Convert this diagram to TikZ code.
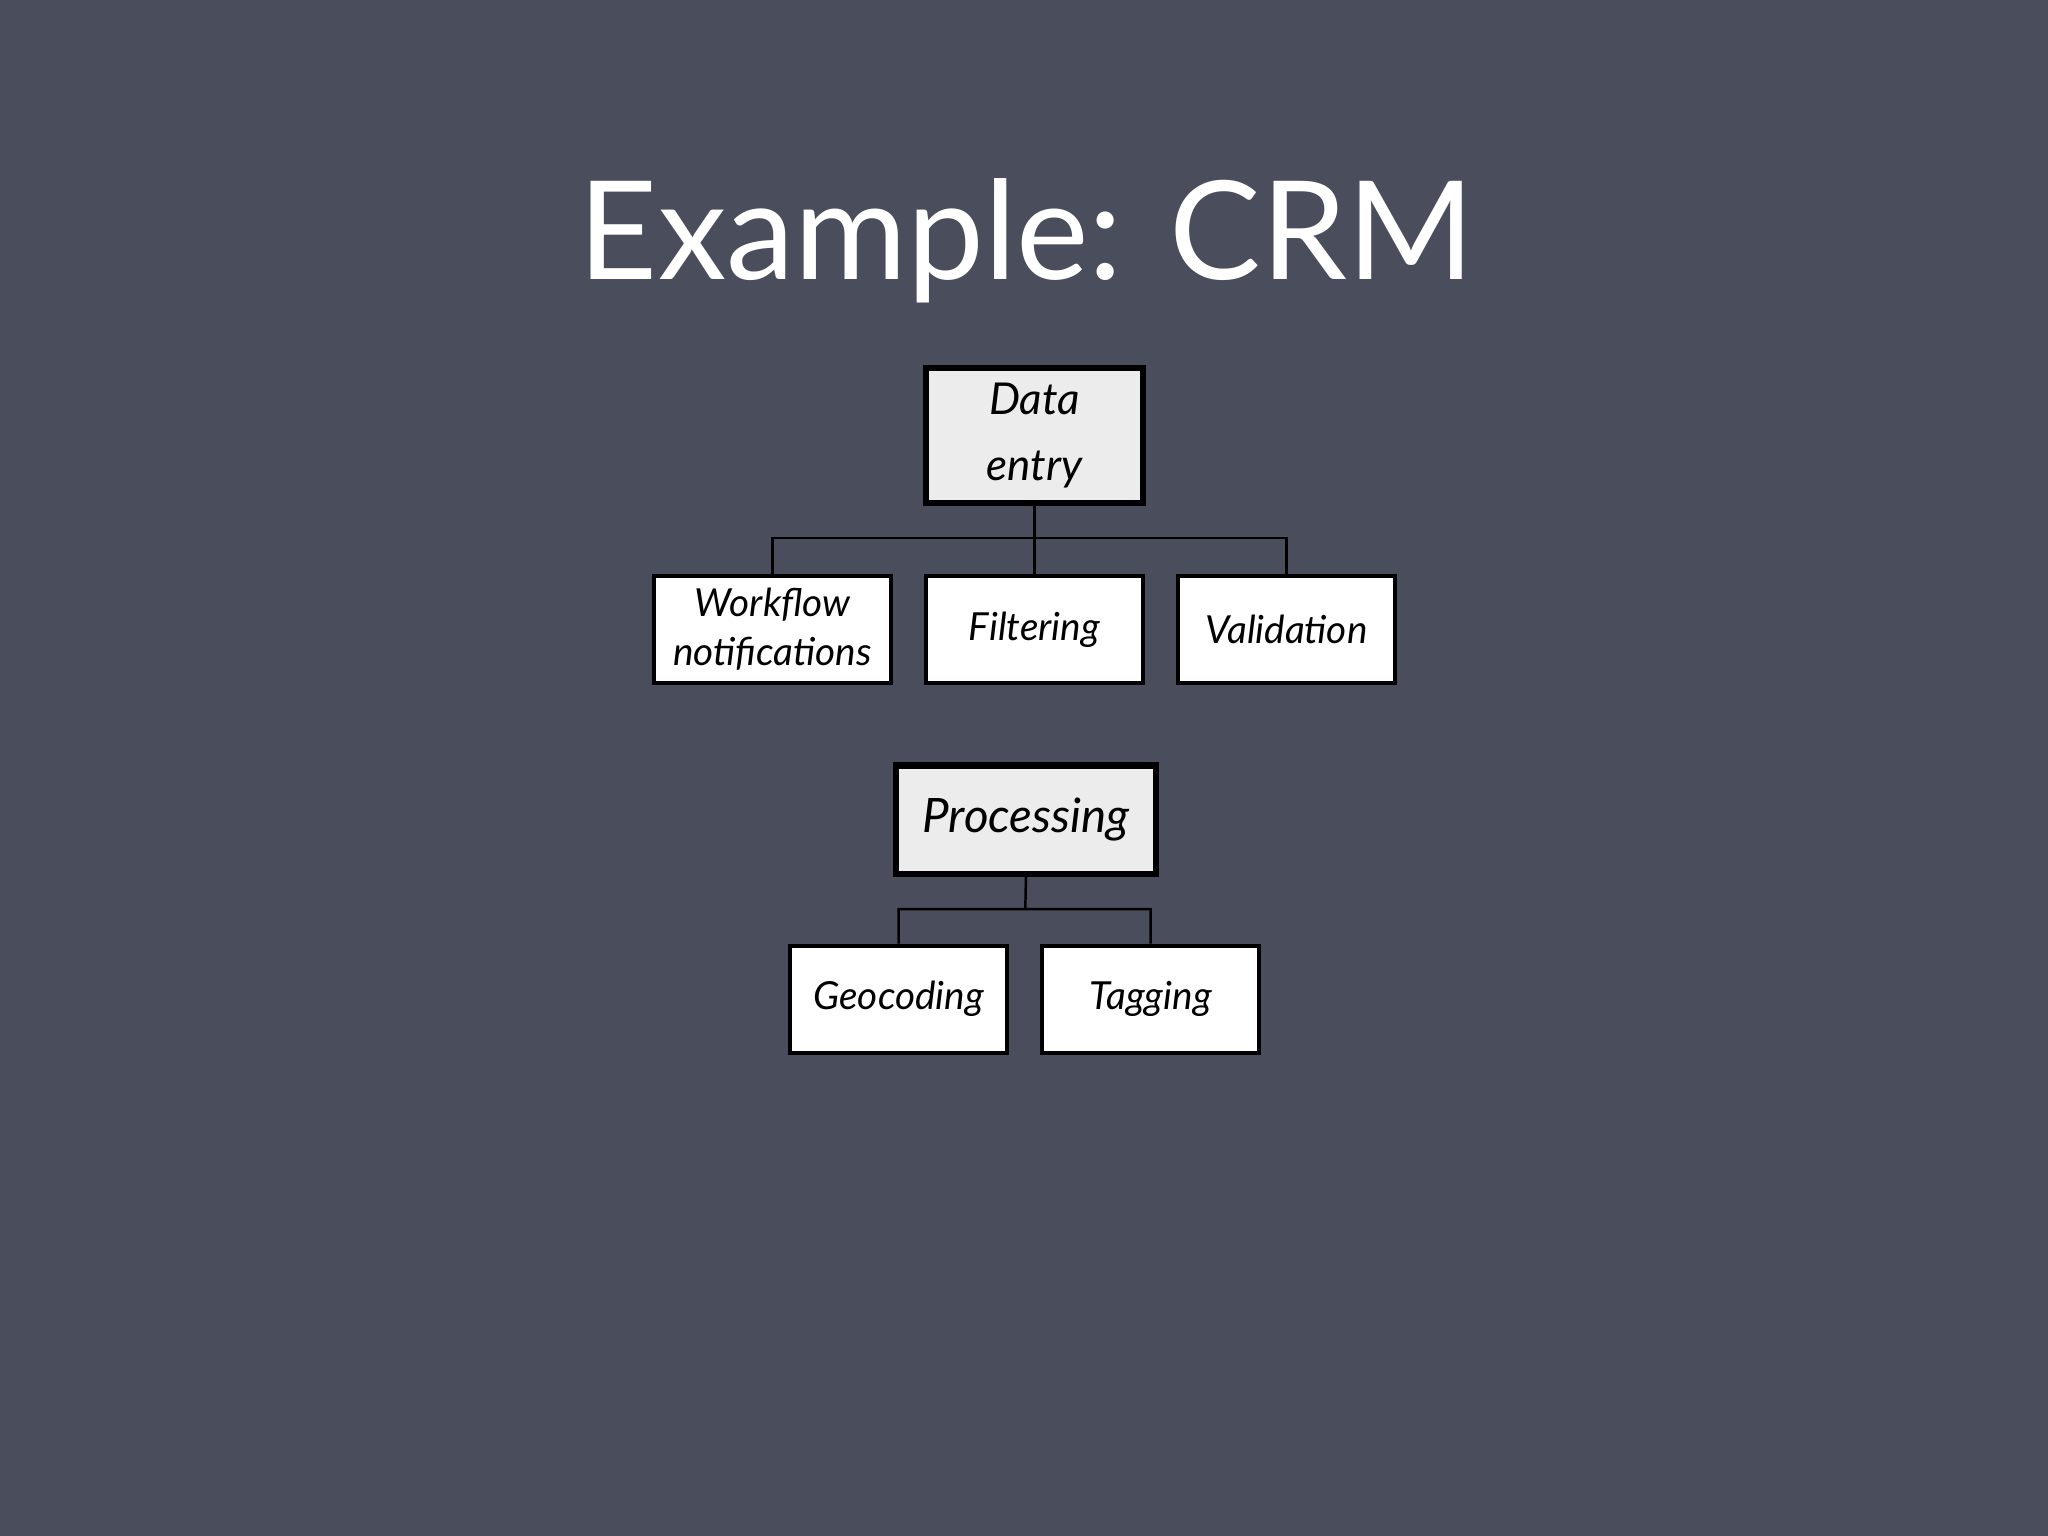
\documentclass[tikz,border=0pt]{standalone}
\usepackage{fontspec}
\setmainfont{Lato}
\begin{document}
\begin{tikzpicture}[x=0.013061cm,y=-0.013061cm,
  box/.style={draw=black,line width=1.2pt,fill=white,inner sep=0pt,align=center,
    minimum width={166*0.013061cm},minimum height={82*0.013061cm},
    font=\itshape\fontsize{11}{14}\selectfont},
  hbox/.style={box,line width=1.8pt,fill=gray!15},
  conn/.style={draw=black,line width=0.7pt}]
\definecolor{bg}{RGB}{74,78,92}
\fill[bg] (0,0) rectangle (1568,1176);
\useasboundingbox (0,0) rectangle (1568,1176);
\node[text=white,font=\fontsize{39}{44}\selectfont] (title) at (786,184) {Example: CRM};
\node[hbox,minimum height={103*0.013061cm},font=\itshape\fontsize{12.5}{19}\selectfont] (de) at (792,333.5) {Data\\entry};
\node[box,minimum width={181*0.013061cm}] (wf) at (591.5,482) {Workflow\\notifications};
\node[box] (fi) at (792,482) {Filtering};
\node[box] (va) at (985,482) {Validation};
\coordinate (j1) at (792,412);
\draw[conn] (de.south) -- (j1) (wf.north) |- (va.north |- j1) -- (va.north) (j1) -- (fi.north);
\node[hbox,minimum width={199*0.013061cm},minimum height={83*0.013061cm},font=\itshape\fontsize{13.5}{16}\selectfont] (pr) at (785.5,627.5) {Processing};
\node[box] (ge) at (688,765) {Geocoding};
\node[box] (ta) at (881,765) {Tagging};
\coordinate (j2) at (785,696);
\draw[conn] (pr.south) -- (j2) (ge.north) |- (ta.north |- j2) -- (ta.north);
\end{tikzpicture}
\end{document}
